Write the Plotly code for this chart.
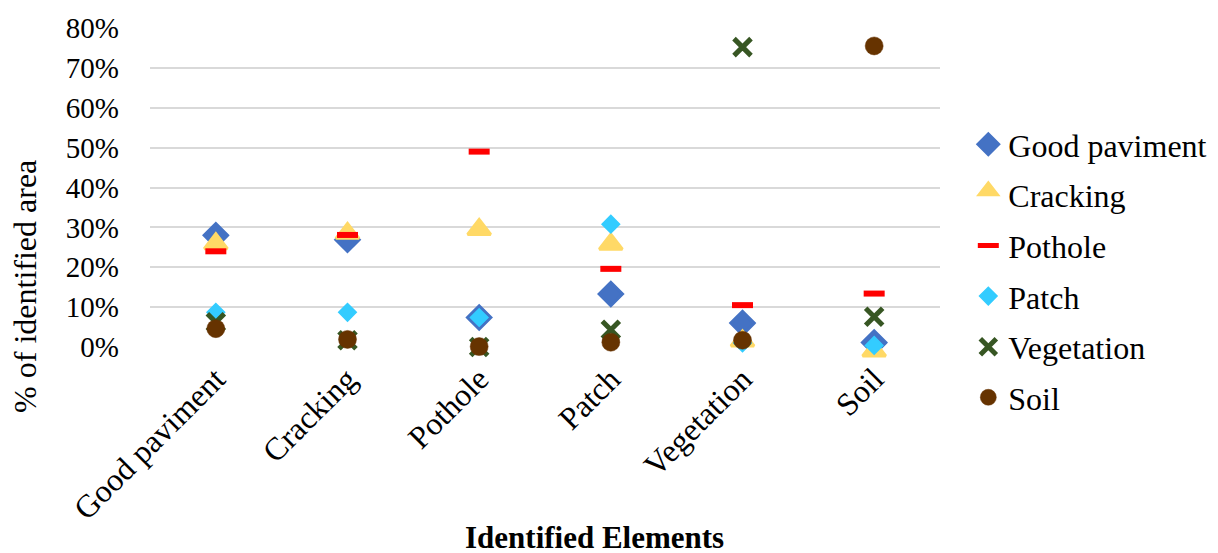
import plotly.graph_objects as go

# Identified element classes (x categories)
categories = ["Good paviment", "Cracking", "Pothole", "Patch", "Vegetation", "Soil"]

# Share of identified area for each class, per element type
good_paviment = [0.280, 0.269, 0.074, 0.133, 0.060, 0.011]
cracking = [0.269, 0.295, 0.305, 0.268, 0.025, 0.000]
pothole = [0.240, 0.281, 0.490, 0.196, 0.105, 0.134]
patch = [0.087, 0.087, 0.074, 0.308, 0.010, 0.004]
vegetation = [0.062, 0.017, 0.000, 0.043, 0.752, 0.076]
soil = [0.046, 0.019, 0.001, 0.012, 0.017, 0.755]

y_ticks = [0, 0.1, 0.2, 0.3, 0.4, 0.5, 0.6, 0.7, 0.8]

SERIF = "Liberation Serif, Times New Roman, serif"

series = [
    ("Good paviment", good_paviment, dict(symbol="diamond", size=18, color="#4472C4",
                                          line=dict(color="#4472C4", width=3))),
    ("Cracking", cracking, dict(symbol="triangle-up", size=20, color="#FFD966", standoff=4,
                                line=dict(color="#FFD966", width=3))),
    ("Pothole", pothole, dict(symbol="line-ew", size=15, color="#FF0000",
                              line=dict(color="#FF0000", width=6))),
    ("Patch", patch, dict(symbol="diamond", size=13.5, color="#33CCFF",
                          line=dict(color="#33CCFF", width=1.5))),
    ("Vegetation", vegetation, dict(symbol="x-thin", size=17, color="#375623",
                                    line=dict(color="#375623", width=5))),
    ("Soil", soil, dict(symbol="circle", size=18, color="#663300",
                        line=dict(color="#663300", width=0.5))),
]

fig = go.Figure()
for name, values, marker in series:
    fig.add_trace(go.Scatter(
        x=categories, y=values, name=name, mode="markers",
        marker=marker, cliponaxis=False, legendgroup=name,
    ))

fig.update_layout(
    width=1218, height=553,
    margin=dict(l=150, r=278, t=25, b=206),
    paper_bgcolor="white", plot_bgcolor="white",
    font=dict(family=SERIF, color="#000000", size=29),
    showlegend=True,
    legend=dict(
        xref="container", yref="container",
        x=0.795, xanchor="left", y=0.51, yanchor="middle",
        maxheight=520,
        font=dict(family=SERIF, size=32, color="#000000"),
        tracegroupgap=6, itemwidth=30,
        bgcolor="rgba(0,0,0,0)",
    ),
    xaxis=dict(
        type="category", categoryorder="array", categoryarray=categories,
        range=[-0.5, 5.5],
        tickangle=-45, showgrid=False, zeroline=False, showline=False,
        ticks="", ticklabelstandoff=6, tickfont=dict(family=SERIF, size=32),
    ),
    yaxis=dict(
        range=[0, 0.8], tickvals=y_ticks, tickformat=".0%",
        showgrid=True, gridcolor="#D9D9D9", gridwidth=1.5,
        zeroline=False, showline=False, ticks="",
        ticklabelstandoff=30, tickfont=dict(family=SERIF, size=29),
    ),
    annotations=[
        dict(text="% of identified area", xref="paper", yref="paper",
             x=-0.158, y=0.189, xanchor="center", yanchor="middle",
             textangle=-90, showarrow=False,
             font=dict(family=SERIF, size=32, color="#000000")),
        dict(text="<b>Identified Elements</b>", xref="paper", yref="paper",
             x=0.563, y=-0.598, xanchor="center", yanchor="middle",
             showarrow=False,
             font=dict(family=SERIF, size=31, color="#000000")),
    ],
)

fig.write_html("out.html")
